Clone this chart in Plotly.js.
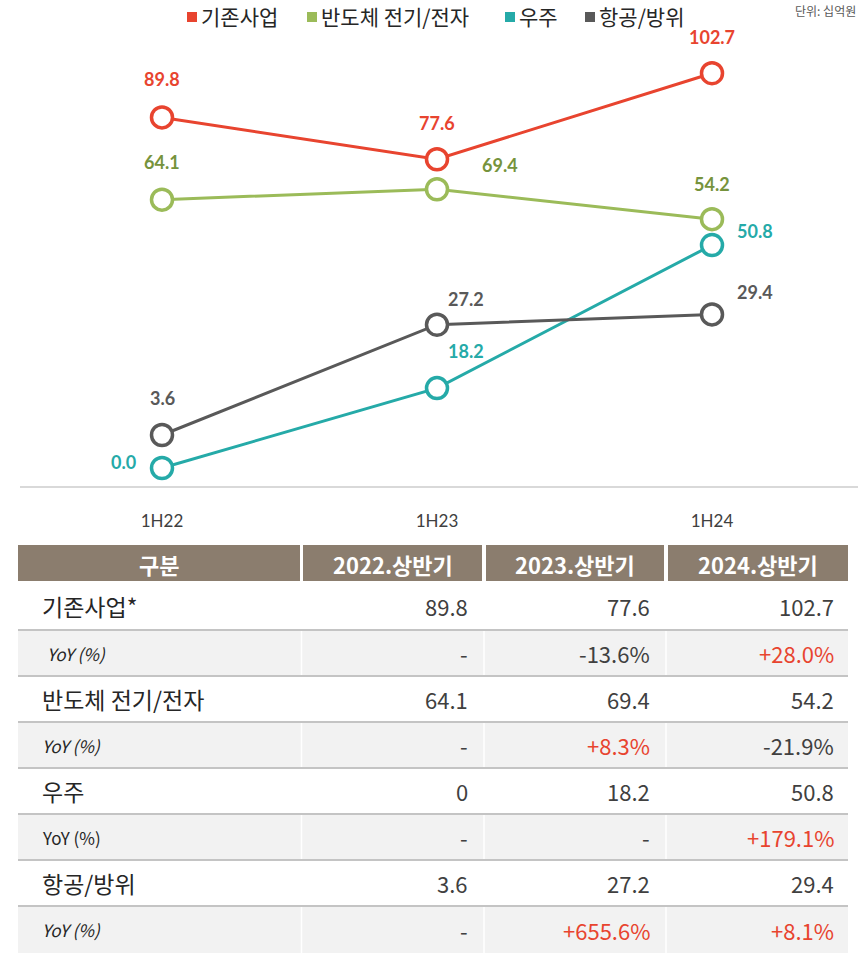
<!DOCTYPE html>
<html>
<head>
<meta charset="utf-8">
<script src="https://cdn.plot.ly/plotly-3.0.1.min.js"></script>
<style>
  html, body { margin: 0; padding: 0; background: #ffffff; }
  #chart { width: 858px; height: 953px; }
</style>
</head>
<body>
<div id="chart"></div>
<script>
// ---------------- DATA ----------------
const categories = ['1H22', '1H23', '1H24'];
const seriesNames = ['기존사업', '반도체 전기/전자', '우주', '항공/방위'];
const existingBiz = [89.8, 77.6, 102.7];
const semiElec = [64.1, 69.4, 54.2];
const space = [0.0, 18.2, 50.8];
const aeroDefense = [3.6, 27.2, 29.4];

const yoyExisting = [null, -13.6, 28.0];
const yoySemi = [null, 8.3, -21.9];
const yoySpace = [null, null, 179.1];
const yoyAero = [null, 655.6, 8.1];

const tableHeader = ['구분', '2022.상반기', '2023.상반기', '2024.상반기'];
const tableRowLabels = ['기존사업*', '반도체 전기/전자', '우주', '항공/방위'];
const yoyLabel = 'YoY (%)';
const unitText = '단위: 십억원';

// ---------------- STYLE ----------------
const W = 858, H = 953;
const fx = p => p / W;
const fy = p => 1 - p / H;

const lineColors = ['#e8442f', '#9bbb59', '#25aaa8', '#595959'];
const labelColors = ['#e8442f', '#76933c', '#25aaa8', '#595959'];
// each series drawn on its own hidden value axis (as in the original chart)
const axisRanges = [[-18.0, 115.3], [-81.9, 150.3], [-4.33, 99.8], [-7.53, 90.26]];
// label offsets (px) per series per point
const labelOffsets = [
  [[0, 38], [0, 36], [0, 36]],
  [[0, 38], [63, 24], [0, 35]],
  [[-39, 6], [29, 37], [43, 14]],
  [[0, 37], [29, 26], [43, 22]]
];

const plotTop = 30, plotBottom = 487;
const plotLeft = 24.5, plotRight = 849.5;

const seriesValues = [existingBiz, semiElec, space, aeroDefense];
const yoyValues = [yoyExisting, yoySemi, yoySpace, yoyAero];
const axisIds = ['y', 'y2', 'y3', 'y4'];

const traces = seriesValues.map((vals, i) => ({
  type: 'scatter',
  mode: 'lines+markers',
  name: seriesNames[i],
  x: categories,
  y: vals,
  yaxis: axisIds[i],
  cliponaxis: false,
  line: { color: lineColors[i], width: 3 },
  marker: { symbol: 'circle', size: 21, color: '#ffffff', line: { color: lineColors[i], width: 3.5 } },
  hoverinfo: 'skip',
  showlegend: false
}));

const annotations = [];
const shapes = [];

// ---------------- POINT LABELS ----------------
seriesValues.forEach((vals, i) => {
  vals.forEach((v, j) => {
    annotations.push({
      x: categories[j], y: v, xref: 'x', yref: axisIds[i],
      text: '<b>' + v.toFixed(1) + '</b>',
      showarrow: false,
      xshift: labelOffsets[i][j][0], yshift: labelOffsets[i][j][1],
      font: { family: 'Lato', size: 18, color: labelColors[i] }
    });
  });
});

// ---------------- LEGEND ----------------
const legendX = [187, 307, 505, 585];
const legendY = 16;
seriesNames.forEach((n, i) => {
  shapes.push({
    type: 'rect', xref: 'paper', yref: 'paper',
    x0: fx(legendX[i]), x1: fx(legendX[i] + 10), y0: fy(legendY + 6), y1: fy(legendY - 4),
    fillcolor: lineColors[i], line: { width: 0 }
  });
  annotations.push({
    xref: 'paper', yref: 'paper', x: fx(legendX[i] + 12), y: fy(legendY),
    xanchor: 'left', yanchor: 'middle', showarrow: false,
    text: n, font: { family: 'Noto Sans CJK KR', size: 21, color: '#262626' }
  });
});

// unit text (top-right corner)
annotations.push({
  xref: 'paper', yref: 'paper', x: 1.0, y: 1.0, xanchor: 'right', yanchor: 'top',
  showarrow: false, text: unitText,
  font: { family: 'Noto Sans CJK KR', size: 12, color: '#595959' }
});

// axis baseline
shapes.push({
  type: 'line', xref: 'paper', yref: 'paper',
  x0: fx(20), x1: 1, y0: fy(plotBottom), y1: fy(plotBottom),
  line: { color: '#d9d9d9', width: 2 }
});

// ---------------- TABLE (built from the data arrays) ----------------
const colBounds = [[18, 300], [303, 482], [486, 664], [668, 848]];
const headerTop = 545, headerBottom = 581;
const rowEdges = [581, 630, 676, 722, 768, 814, 860, 906, 953];
const headerFill = '#8b7d6e';
const stripeFill = '#f2f2f2';
const valueDark = '#404040';
const posRed = '#e8442f';
const fmtVal = v => String(v);
const fmtYoy = v => (v === null ? '-' : (v > 0 ? '+' : '') + v.toFixed(1) + '%');

// header
tableHeader.forEach((h, c) => {
  shapes.push({
    type: 'rect', xref: 'paper', yref: 'paper', layer: 'below',
    x0: fx(colBounds[c][0]), x1: fx(colBounds[c][1]), y0: fy(headerBottom), y1: fy(headerTop),
    fillcolor: headerFill, line: { width: 0 }
  });
  annotations.push({
    xref: 'paper', yref: 'paper', x: fx((colBounds[c][0] + colBounds[c][1]) / 2), y: fy((headerTop + headerBottom) / 2 + 1),
    xanchor: 'center', yanchor: 'middle', showarrow: false,
    text: '<b>' + h + '</b>', font: { family: 'Noto Sans CJK KR', size: 22, color: '#ffffff' }
  });
});

// body rows
tableRowLabels.forEach((lab, r) => {
  const rows = [
    { top: rowEdges[2 * r], bot: rowEdges[2 * r + 1], yoy: false },
    { top: rowEdges[2 * r + 1], bot: rowEdges[2 * r + 2], yoy: true }
  ];
  rows.forEach(rw => {
    const mid = (rw.top + rw.bot) / 2;
    if (rw.yoy) {
      shapes.push({
        type: 'rect', xref: 'paper', yref: 'paper', layer: 'below',
        x0: fx(colBounds[0][0]), x1: fx(colBounds[3][1]), y0: fy(rw.bot), y1: fy(rw.top),
        fillcolor: stripeFill, line: { width: 0 }
      });
      [301.5, 484, 666].forEach(vx => shapes.push({
        type: 'line', xref: 'paper', yref: 'paper', layer: 'below',
        x0: fx(vx), x1: fx(vx), y0: fy(rw.bot), y1: fy(rw.top),
        line: { color: '#ffffff', width: 1.5 }
      }));
    }
    annotations.push({
      xref: 'paper', yref: 'paper', x: fx(rw.yoy ? (r === 0 ? 45 : 40) : 40), y: fy(mid),
      xanchor: 'left', yanchor: 'middle', showarrow: false,
      text: rw.yoy ? (r === 2 ? yoyLabel : '<i>' + yoyLabel + '</i>') : lab,
      font: { family: 'Noto Sans CJK KR', size: rw.yoy ? 17 : 23, color: '#262626' }
    });
    for (let c = 0; c < 3; c++) {
      let txt, col;
      if (rw.yoy) {
        const y = yoyValues[r][c];
        txt = fmtYoy(y);
        col = (y !== null && y > 0) ? posRed : valueDark;
      } else {
        txt = fmtVal(seriesValues[r][c]);
        col = valueDark;
      }
      annotations.push({
        xref: 'paper', yref: 'paper', x: fx(colBounds[c + 1][1] - 12), y: fy(mid),
        xanchor: 'right', yanchor: 'middle', showarrow: false,
        text: txt, font: { family: 'Noto Sans CJK KR', size: 22, color: col }
      });
    }
  });
});

// row separators
rowEdges.slice(1, -1).forEach(yy => {
  shapes.push({
    type: 'line', xref: 'paper', yref: 'paper', layer: 'below',
    x0: fx(colBounds[0][0]), x1: fx(colBounds[3][1]), y0: fy(yy), y1: fy(yy),
    line: { color: '#c4c4c4', width: 2 }
  });
});

const yDomain = [fy(plotBottom), fy(plotTop)];
const hiddenAxis = (k) => ({
  range: axisRanges[k], visible: false, showgrid: false, zeroline: false, fixedrange: true
});

const layout = {
  width: W, height: H,
  margin: { l: 0, r: 0, t: 0, b: 0 },
  paper_bgcolor: '#ffffff', plot_bgcolor: 'rgba(0,0,0,0)',
  showlegend: false,
  xaxis: {
    type: 'category', domain: [fx(plotLeft), fx(plotRight)], range: [-0.5, 2.5],
    showgrid: false, zeroline: false, showline: false,
    ticks: '', ticklabelstandoff: 22,
    tickfont: { family: 'Lato', size: 17, color: '#404040' }, fixedrange: true
  },
  yaxis: Object.assign(hiddenAxis(0), { domain: yDomain }),
  yaxis2: Object.assign(hiddenAxis(1), { overlaying: 'y' }),
  yaxis3: Object.assign(hiddenAxis(2), { overlaying: 'y' }),
  yaxis4: Object.assign(hiddenAxis(3), { overlaying: 'y' }),
  annotations: annotations,
  shapes: shapes
};

Plotly.newPlot('chart', traces, layout, { displayModeBar: false, staticPlot: true });
</script>
</body>
</html>
